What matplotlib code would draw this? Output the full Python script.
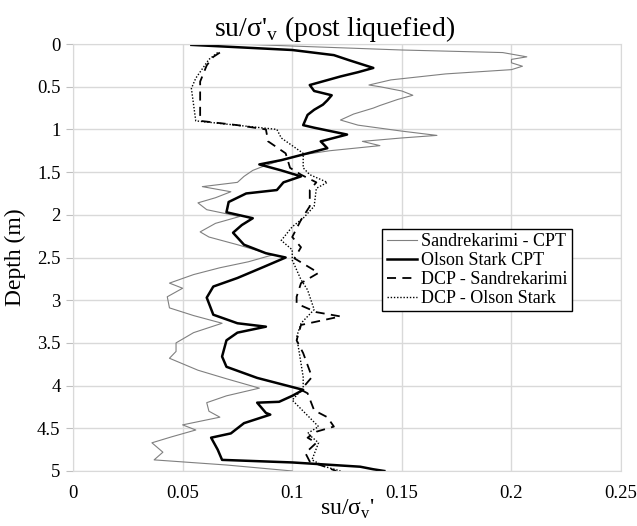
import matplotlib
matplotlib.use("Agg")
import matplotlib.pyplot as plt
from matplotlib.ticker import FuncFormatter

plt.rcParams['font.family'] = ['Liberation Serif', 'DejaVu Serif']
plt.rcParams['mathtext.fontset'] = 'custom'
plt.rcParams['mathtext.rm'] = 'Liberation Serif'

# Sandrekarimi - CPT
sand_depth = [0.0, 0.07, 0.1, 0.15, 0.18, 0.22, 0.26, 0.3, 0.35, 0.42, 0.48, 0.5, 0.55, 0.6,
              0.65, 0.72, 0.75, 0.82, 0.89, 0.95, 1.02, 1.07, 1.1, 1.14, 1.19, 1.25, 1.3, 1.36,
              1.43, 1.48, 1.55, 1.62, 1.67, 1.73, 1.8, 1.86, 1.94, 2.02, 2.1, 2.2, 2.26, 2.35,
              2.47, 2.55, 2.62, 2.7, 2.8, 2.86, 2.96, 3.09, 3.18, 3.27, 3.38, 3.5, 3.6, 3.68,
              3.82, 3.92, 4.03, 4.12, 4.2, 4.3, 4.37, 4.46, 4.52, 4.6, 4.67, 4.78, 4.87, 4.93, 5.0]
sand_val = [0.075, 0.15, 0.196, 0.207, 0.2, 0.2, 0.205, 0.2, 0.17, 0.145, 0.135, 0.14, 0.15, 0.155,
            0.148, 0.14, 0.137, 0.128, 0.122, 0.13, 0.15, 0.166, 0.15, 0.132, 0.14, 0.117, 0.104, 0.095,
            0.087, 0.082, 0.078, 0.075, 0.059, 0.072, 0.065, 0.057, 0.061, 0.076, 0.065, 0.058, 0.062, 0.075,
            0.091, 0.08, 0.067, 0.055, 0.044, 0.05, 0.043, 0.044, 0.055, 0.068, 0.055, 0.047, 0.047, 0.044,
            0.057, 0.07, 0.085, 0.07, 0.061, 0.062, 0.067, 0.05, 0.056, 0.045, 0.036, 0.041, 0.037, 0.07, 0.1]

# Olson Stark CPT
olson_depth = [0.01, 0.07, 0.13, 0.19, 0.28, 0.33, 0.38, 0.43, 0.48, 0.55, 0.6, 0.66, 0.71, 0.77,
               0.83, 0.95, 0.98, 1.06, 1.14, 1.22, 1.3, 1.36, 1.41, 1.48, 1.55, 1.62, 1.71, 1.75,
               1.85, 1.97, 2.04, 2.12, 2.21, 2.35, 2.45, 2.5, 2.61, 2.74, 2.84, 2.97, 3.17, 3.27,
               3.31, 3.38, 3.47, 3.66, 3.78, 3.91, 4.05, 4.12, 4.19, 4.2, 4.32, 4.34, 4.44, 4.56,
               4.61, 4.75, 4.87, 4.9, 4.95, 4.98, 5.0]
olson_val = [0.054, 0.1, 0.119, 0.126, 0.137, 0.13, 0.122, 0.115, 0.108, 0.11, 0.118, 0.116, 0.114, 0.11,
             0.107, 0.105, 0.11, 0.125, 0.113, 0.116, 0.104, 0.095, 0.085, 0.095, 0.104, 0.096, 0.093, 0.079,
             0.071, 0.07, 0.082, 0.077, 0.073, 0.078, 0.088, 0.097, 0.087, 0.075, 0.064, 0.061, 0.064, 0.075,
             0.088, 0.075, 0.07, 0.068, 0.07, 0.084, 0.105, 0.1, 0.094, 0.084, 0.088, 0.09, 0.078, 0.072,
             0.063, 0.066, 0.068, 0.1, 0.131, 0.137, 0.142]

# DCP - Sandrekarimi
dcp_sand_depth = [0.1, 0.15, 0.25, 0.44, 0.71, 0.9, 0.95, 1.0, 1.14, 1.28, 1.45, 1.53, 1.62, 1.71,
                  1.9, 2.06, 2.26, 2.38, 2.51, 2.68, 2.8, 2.96, 3.04, 3.14, 3.19, 3.29, 3.47, 3.62,
                  3.9, 4.05, 4.09, 4.29, 4.37, 4.48, 4.54, 4.61, 4.67, 4.79, 4.89, 4.95, 5.0]
dcp_sand_val = [0.067, 0.064, 0.061, 0.058, 0.058, 0.058, 0.075, 0.088, 0.089, 0.097, 0.099, 0.104, 0.111, 0.108,
                0.108, 0.104, 0.1, 0.104, 0.101, 0.112, 0.104, 0.102, 0.102, 0.111, 0.122, 0.104, 0.102, 0.105,
                0.109, 0.104, 0.107, 0.11, 0.116, 0.119, 0.111, 0.107, 0.111, 0.106, 0.108, 0.115, 0.12]

# DCP - Olson Stark
dcp_olson_depth = [0.1, 0.18, 0.4, 0.52, 0.71, 0.9, 1.0, 1.1, 1.28, 1.45, 1.53, 1.62, 1.69, 1.9,
                   2.04, 2.14, 2.3, 2.41, 2.53, 2.76, 2.88, 3.11, 3.27, 3.43, 3.58, 3.9, 4.03, 4.17,
                   4.48, 4.56, 4.67, 4.87, 4.95, 5.0]
dcp_olson_val = [0.066, 0.062, 0.056, 0.054, 0.055, 0.056, 0.093, 0.095, 0.105, 0.105, 0.108, 0.116, 0.111, 0.11,
                 0.105, 0.1, 0.095, 0.1, 0.1, 0.104, 0.107, 0.11, 0.104, 0.102, 0.103, 0.105, 0.105, 0.1,
                 0.112, 0.107, 0.112, 0.109, 0.115, 0.122]

xticks = [0, 0.05, 0.1, 0.15, 0.2, 0.25]
yticks = [0, 0.5, 1, 1.5, 2, 2.5, 3, 3.5, 4, 4.5, 5]

fig = plt.figure(figsize=(6.37, 5.26), dpi=100)
ax = fig.add_axes([0.1146, 0.1046, 0.8604, 0.8117])

ax.plot(sand_val, sand_depth, color='#808080', lw=0.8, label='Sandrekarimi - CPT')
ax.plot(olson_val, olson_depth, color='black', lw=1.8, label='Olson Stark CPT')
ax.plot(dcp_sand_val, dcp_sand_depth, color='black', lw=1.3, ls=(0, (5, 3.5)), label='DCP - Sandrekarimi')
ax.plot(dcp_olson_val, dcp_olson_depth, color='black', lw=1.0, ls=(0, (1, 1.3)), label='DCP - Olson Stark')

ax.set_xlim(0, 0.25)
ax.set_ylim(5, 0)
ax.set_xticks(xticks)
ax.set_yticks(yticks)
ax.xaxis.set_major_formatter(FuncFormatter(lambda v, p: '%g' % v))
ax.yaxis.set_major_formatter(FuncFormatter(lambda v, p: '%g' % v))
ax.tick_params(axis='x', length=0, labelsize=13.5, pad=10)
ax.tick_params(axis='y', length=5, color='#bfbfbf', labelsize=13.5, pad=4)
ax.grid(True, color='#d9d9d9', lw=1.0)
ax.set_axisbelow(True)
for s in ax.spines.values():
    s.set_color('#d9d9d9')

ax.set_title("su/σ'$_\\mathregular{v}$ (post liquefied)", fontsize=20, pad=6, x=0.478)
ax.set_xlabel("su/σ$_\\mathregular{v}$'", fontsize=17, labelpad=-3)
ax.set_ylabel('Depth (m)', fontsize=17, labelpad=8)

leg = ax.legend(loc='upper left', bbox_to_anchor=(0.564, 0.567), fontsize=13, frameon=True,
                fancybox=False, edgecolor='black', framealpha=1, handlelength=1.7,
                handletextpad=0.2, borderpad=0.25, labelspacing=0.1, borderaxespad=0)
leg.get_frame().set_linewidth(1.0)

fig.savefig('out.png', dpi=100)
